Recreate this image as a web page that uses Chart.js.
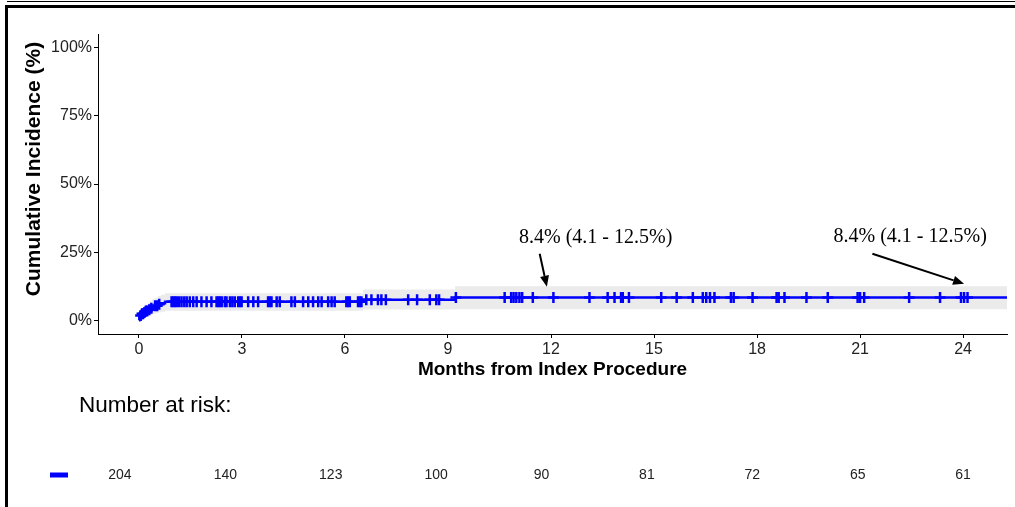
<!DOCTYPE html>
<html>
<head>
<meta charset="utf-8">
<script src="https://cdn.jsdelivr.net/npm/chart.js@4/dist/chart.umd.min.js"></script>
<style>
html, body { margin: 0; padding: 0; background: #fff; }
#wrap { position: relative; width: 1015px; height: 507px; overflow: hidden; }
#km { position: absolute; left: 0; top: 0; }
.thin { position: absolute; left: 7px; top: 1px; width: 1008px; height: 1px; background: #000; }
.frame { position: absolute; left: 5px; top: 5px; width: 1010px; height: 502px; border-left: 3px solid #000; border-top: 3px solid #000; box-sizing: border-box; }
</style>
</head>
<body>
<div id="wrap">
  <canvas id="km" width="1015" height="507"></canvas>
  <div class="thin"></div>
  <div class="frame"></div>
</div>
<script>
// cumulative incidence step curve (months, %)
const eventTimes = [0, 0.01, 0.04, 0.08, 0.13, 0.19, 0.25, 0.31, 0.38, 0.46, 0.55, 0.64, 0.76, 6.53, 9.21];
const cumInc     = [0, 1.2, 1.8, 2.4, 2.9, 3.4, 3.9, 4.4, 4.9, 5.4, 5.9, 6.3, 6.8, 7.6, 8.4];
const ciLower    = [0, 0.2, 0.4, 0.7, 1.0, 1.3, 1.6, 1.9, 2.3, 2.6, 2.9, 3.2, 3.5, 4.0, 4.1];
const ciUpper    = [0, 3.0, 3.8, 4.5, 5.2, 5.8, 6.5, 7.1, 7.7, 8.3, 8.9, 9.4, 9.9, 11.3, 12.5];

// censored observations (months)
const censorTimes = [0.05, 0.09, 0.12, 0.16, 0.2, 0.24, 0.3, 0.36, 0.47, 0.53, 0.59,
  0.95, 1.00, 1.05, 1.10, 1.17, 1.24, 1.32, 1.39, 1.48, 1.58, 1.68, 1.82, 1.97, 2.11,
  2.26, 2.31, 2.36, 2.41, 2.50, 2.55, 2.65, 2.72, 2.79, 2.89, 2.94, 2.99, 3.18, 3.33,
  3.47, 3.76, 3.81, 3.86, 4.01, 4.10, 4.44, 4.54, 4.78, 4.93, 5.07, 5.22, 5.32, 5.51,
  5.61, 5.70, 6.04, 6.09, 6.14, 6.38, 6.43, 6.48, 6.62, 6.77, 6.96, 7.06, 7.19, 7.84,
  8.10, 8.47, 8.66, 8.74, 9.23, 10.65, 10.84, 10.91, 10.99, 11.08, 11.16, 11.47, 12.07,
  13.12, 13.65, 13.85, 14.04, 14.09, 14.27, 15.21, 15.66, 16.13, 16.42, 16.52, 16.63,
  16.76, 17.24, 17.32, 17.87, 18.57, 18.63, 18.80, 19.44, 20.06, 20.93, 21.00, 21.12,
  22.43, 23.33, 23.94, 24.03, 24.13];

const xTicks = [0, 3, 6, 9, 12, 15, 18, 21, 24];
const yTicks = [0, 25, 50, 75, 100];

const riskTimes  = [0, 3, 6, 9, 12, 15, 18, 21, 24];
const riskCounts = [204, 140, 123, 100, 90, 81, 72, 65, 61];

const noteLabels = ['8.4% (4.1 - 12.5%)', '8.4% (4.1 - 12.5%)'];

const X_MIN = -1.193, X_MAX = 25.28;
const FONT = '"Liberation Sans", Arial, sans-serif';

function valueAt(t) {
    let v = 0;
    for (let i = 0; i < eventTimes.length; i++) {
        if (eventTimes[i] <= t) v = cumInc[i];
    }
    return v;
}

function stepPoints(vals) {
    const pts = eventTimes.map((t, i) => ({ x: t, y: vals[i] }));
    pts.push({ x: X_MAX, y: vals[vals.length - 1] });
    return pts;
}

// annotation placement in data units: text centre, arrow start, arrow tip
const notePos = [
    { tx: 13.3, ty: 30.2, from: [11.67, 24.4], to: [11.88, 12.3] },
    { tx: 22.46, ty: 30.8, from: [21.36, 24.4], to: [24.03, 13.4] }
];

function drawArrow(ctx, x1, y1, x2, y2) {
    const ang = Math.atan2(y2 - y1, x2 - x1);
    const head = 11, half = 4.5;
    const bx = x2 - head * Math.cos(ang), by = y2 - head * Math.sin(ang);
    ctx.beginPath();
    ctx.moveTo(x1, y1);
    ctx.lineTo(bx, by);
    ctx.stroke();
    ctx.beginPath();
    ctx.moveTo(x2, y2);
    ctx.lineTo(bx + half * Math.sin(ang), by - half * Math.cos(ang));
    ctx.lineTo(bx - half * Math.sin(ang), by + half * Math.cos(ang));
    ctx.closePath();
    ctx.fill();
}

const overlay = {
    id: 'overlay',
    afterDraw(chart) {
        const { ctx, scales: { x, y, xr } } = chart;
        ctx.save();
        // y axis title
        ctx.fillStyle = '#000';
        ctx.font = 'bold 21px ' + FONT;
        ctx.textAlign = 'center';
        ctx.textBaseline = 'middle';
        ctx.translate(34, 169);
        ctx.rotate(-Math.PI / 2);
        ctx.fillText('Cumulative Incidence (%)', 0, 0);
        ctx.setTransform(1, 0, 0, 1, 0, 0);

        // annotations
        ctx.strokeStyle = '#000';
        ctx.lineWidth = 2;
        ctx.font = '20px "Liberation Serif", "Times New Roman", serif';
        noteLabels.forEach((txt, i) => {
            const p = notePos[i];
            ctx.fillText(txt, x.getPixelForValue(p.tx), y.getPixelForValue(p.ty));
            drawArrow(ctx, x.getPixelForValue(p.from[0]), y.getPixelForValue(p.from[1]),
                x.getPixelForValue(p.to[0]), y.getPixelForValue(p.to[1]));
        });

        // risk table
        ctx.textAlign = 'left';
        ctx.font = '22.5px ' + FONT;
        ctx.fillText('Number at risk:', 79, 406);
        ctx.fillStyle = '#0000FF';
        ctx.fillRect(50, 472.5, 18, 5);
        ctx.fillStyle = '#222';
        ctx.font = '14px ' + FONT;
        ctx.textAlign = 'center';
        riskCounts.forEach((n, i) => {
            ctx.fillText(String(n), xr.getPixelForValue(riskTimes[i]), 475);
        });
        ctx.restore();
    }
};

const ctx = document.getElementById('km').getContext('2d');
new Chart(ctx, {
    type: 'line',
    data: {
        datasets: [
            {
                label: 'censor',
                data: censorTimes.map(t => ({ x: t, y: valueAt(t) })),
                showLine: false,
                pointStyle: 'cross',
                pointRadius: 5.5,
                pointBorderWidth: 2.5,
                pointBorderColor: '#0000FF',
                borderColor: '#0000FF',
                order: 0
            },
            {
                label: 'curve',
                data: stepPoints(cumInc),
                stepped: 'before',
                borderColor: '#0000FF',
                borderWidth: 2.5,
                pointRadius: 0,
                fill: false,
                order: 1
            },
            {
                label: 'upper',
                data: stepPoints(ciUpper),
                stepped: 'before',
                borderWidth: 0,
                borderColor: 'rgba(0,0,0,0)',
                pointRadius: 0,
                backgroundColor: '#EBEBEB',
                fill: 3,
                order: 2
            },
            {
                label: 'lower',
                data: stepPoints(ciLower),
                stepped: 'before',
                borderWidth: 0,
                borderColor: 'rgba(0,0,0,0)',
                pointRadius: 0,
                fill: false,
                order: 3
            }
        ]
    },
    options: {
        responsive: false,
        animation: false,
        devicePixelRatio: 1,
        layout: { padding: { left: 0, top: 34, right: 7, bottom: 113 } },
        plugins: { legend: { display: false }, tooltip: { enabled: false } },
        scales: {
            x: {
                type: 'linear',
                min: X_MIN,
                max: X_MAX,
                afterBuildTicks: s => { s.ticks = xTicks.map(v => ({ value: v })); },
                afterFit: s => { s.height = 60; },
                ticks: { font: { family: FONT, size: 16 }, color: '#222', padding: 2, maxRotation: 0 },
                grid: { drawOnChartArea: false, drawTicks: true, tickLength: 4, color: '#000' },
                border: { display: true, color: '#000', width: 1 },
                title: {
                    display: true,
                    text: 'Months from Index Procedure',
                    font: { family: FONT, size: 19, weight: 'bold' },
                    color: '#000',
                    padding: { top: 0, bottom: 13 }
                }
            },
            xr: {
                type: 'linear',
                display: false,
                min: -0.6256,
                max: 25.251
            },
            y: {
                type: 'linear',
                min: -5,
                max: 105,
                afterBuildTicks: s => { s.ticks = yTicks.map(v => ({ value: v })); },
                afterFit: s => { s.width = 98; },
                ticks: { font: { family: FONT, size: 16 }, color: '#222', padding: 2, callback: v => v + '%' },
                grid: { drawOnChartArea: false, drawTicks: true, tickLength: 4, color: '#000' },
                border: { display: true, color: '#000', width: 1 }
            }
        }
    },
    plugins: [overlay]
});
</script>
</body>
</html>
